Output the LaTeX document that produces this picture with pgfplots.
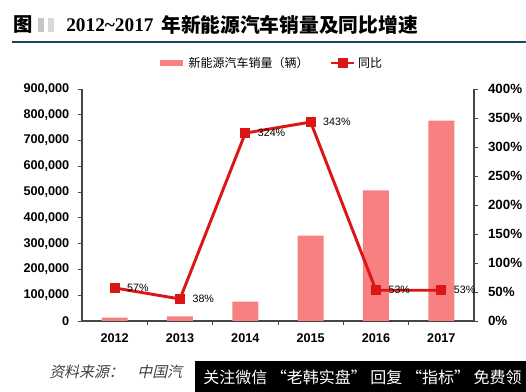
\documentclass[border=0pt]{standalone}
\usepackage{fontspec}
\usepackage{pgfplots}
\pgfplotsset{compat=1.18}
\setmainfont{Liberation Sans}
\newfontfamily\cjk{Noto Sans CJK SC}
\newfontfamily\cjkit[FakeSlant=0.22]{Noto Sans CJK SC}
\newfontfamily\tnr{Liberation Serif}
\definecolor{barpink}{RGB}{248,128,128}
\definecolor{linered}{RGB}{218,22,22}
\definecolor{axisgray}{RGB}{70,70,70}
\definecolor{rulecol}{RGB}{25,70,95}
\begin{document}
\begin{tikzpicture}[x=0.75pt,y=0.75pt]
\useasboundingbox (0,0) rectangle (526,392);
% title
\node[anchor=west, inner sep=0] at (13,367) {\cjk\bfseries\fontsize{14.5}{16}\selectfont 图};
\fill[gray!45] (38,360) rectangle (44,374);
\fill[gray!30] (48,360) rectangle (54,374);
\node[anchor=west, inner sep=0] at (66,367) {\tnr\bfseries\fontsize{14.5}{16}\selectfont 2012\textasciitilde2017};
\node[anchor=west, inner sep=0] at (161,367) {\cjk\bfseries\fontsize{14.8}{16}\selectfont 年新能源汽车销量及同比增速};
\draw[rulecol, line width=1.8pt] (12,350) -- (526,350);

\begin{axis}[at={(61.5pt,53.25pt)}, anchor=south west, scale only axis,
  width=294pt, height=174pt,
  xmin=-0.5, xmax=5.5, ymin=0, ymax=900000,
  axis y line*=left, axis x line*=bottom,
  axis line style={draw=axisgray, line width=0.8pt, -},
  xtick={0.5,1.5,2.5,3.5,4.5}, xticklabels={},
  extra x ticks={0,1,2,3,4,5},
  extra x tick labels={2012,2013,2014,2015,2016,2017},
  extra x tick style={major tick length=0pt, xticklabel style={yshift=-6pt}},
  ytick={0,100000,...,900000},
  scaled y ticks=false,
  tick align=outside, major tick length=3pt,
  tick style={draw=axisgray, line width=0.6pt},
  /pgf/number format/.cd, fixed, 1000 sep={,}, assume math mode=true,
  /pgfplots/.cd,
  ticklabel style={font=\bfseries\fontsize{9.5}{11}\selectfont},
  yticklabel style={xshift=-3pt},
]
\addplot[ybar, bar width=19.5pt, fill=barpink, draw=none]
  coordinates {(0,12791) (1,17642) (2,74763) (3,331092) (4,507000) (5,777000)};
\end{axis}

\begin{axis}[at={(61.5pt,53.25pt)}, anchor=south west, scale only axis,
  width=294pt, height=174pt,
  xmin=-0.5, xmax=5.5, ymin=0, ymax=400,
  axis y line*=right, axis x line=none,
  axis line style={draw=axisgray, line width=0.8pt, -},
  ytick={0,50,...,400},
  yticklabel={\pgfmathprintnumber{\tick}\%},
  tick align=outside, major tick length=3pt,
  tick style={draw=axisgray, line width=0.6pt},
  /pgf/number format/assume math mode=true,
  ticklabel style={font=\bfseries\fontsize{10}{12}\selectfont},
  yticklabel style={xshift=4pt},
  legend style={at={(0.483,1.112)}, anchor=center, draw=none, fill=none,
    font=\cjk\fontsize{9}{10}\selectfont, legend columns=2,
    /tikz/every even column/.append style={column sep=14pt}},
]
\addlegendimage{barpink, line width=4pt}
\addlegendentry{新能源汽车销量（辆）}
\addplot[linered, line width=2.2pt, mark=square*, mark size=2.6pt,
  mark options={solid},
  point meta=explicit symbolic,
  nodes near coords,
  nodes near coords style={anchor=west, xshift=5pt, text=black, font=\fontsize{8}{9}\selectfont}]
  coordinates {(0,57) [57\%] (1,38) [38\%] (2,324) [324\%] (3,343) [343\%] (4,53) [53\%] (5,53) [53\%]};
\addlegendentry{同比}
\end{axis}

% source + watermark
\node[anchor=west, inner sep=0, text=black!75] at (49,20) {\cjkit\fontsize{11.2}{13}\selectfont 资料来源：\hspace{0.9em}中国汽};
\fill[black] (195,0) rectangle (526,31);
\begin{scope}
\clip (195,0) rectangle (526,31);
\node[anchor=west, inner sep=0, text=white] at (203,15) {\cjk\fontsize{12}{14}\selectfont 关注微信 “老韩实盘” 回复 “指标” 免费领};
\end{scope}
\end{tikzpicture}
\end{document}
